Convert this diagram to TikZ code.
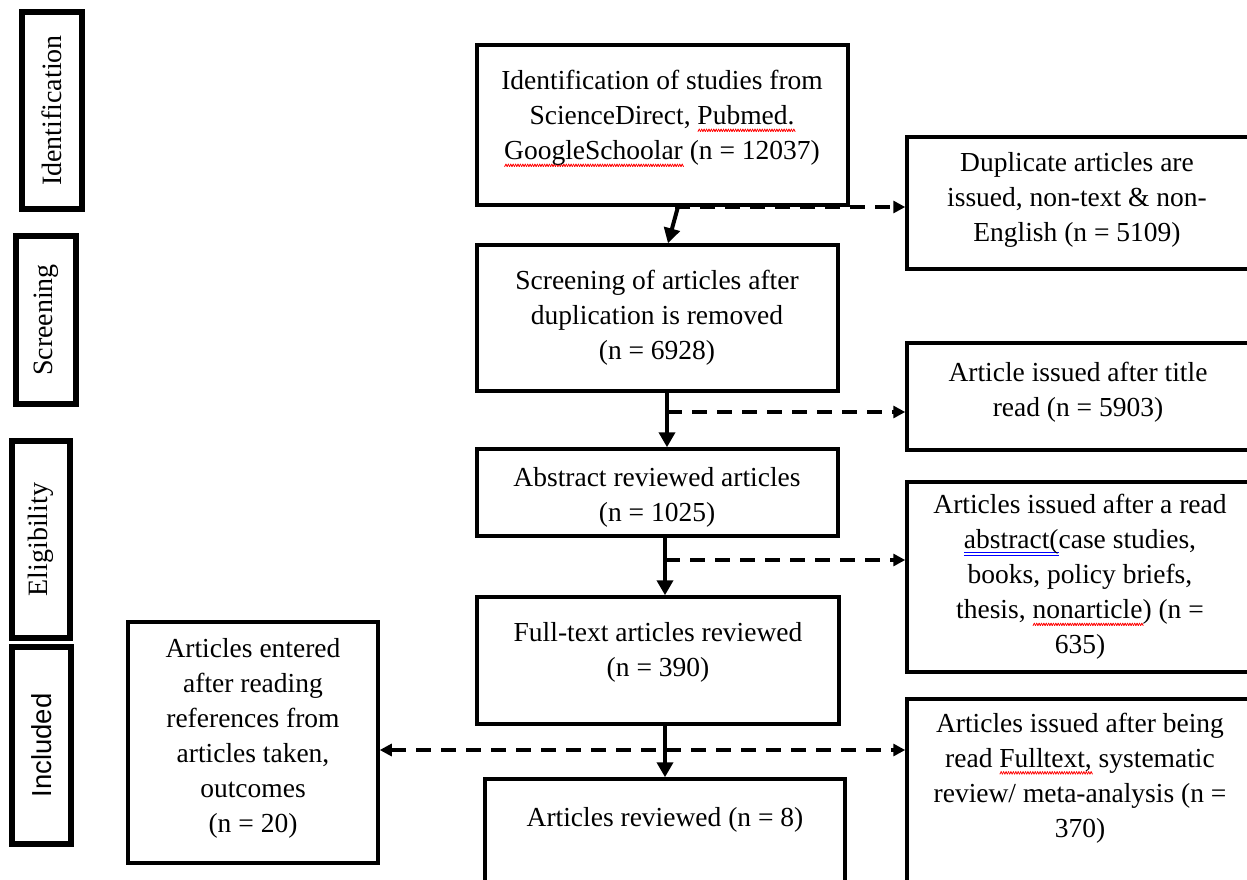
\documentclass[tikz,border=0pt]{standalone}
\usepackage{fontspec}
\setmainfont{Liberation Serif}
\newfontfamily\labsans{Liberation Sans}
\usepackage{graphicx}
\usetikzlibrary{arrows.meta}
\newsavebox\ulbox
\newcommand\wavepiece{\rotatebox[origin=c]{60}{\rule{3.2pt}{0.8pt}}\kern-1.1pt\rotatebox[origin=c]{-60}{\rule{3.2pt}{0.8pt}}\kern-1.1pt}
\newcommand\redwave[1]{\sbox\ulbox{#1}\rlap{\color{red}\raisebox{-6pt}[0pt][0pt]{\hbox to \wd\ulbox{\xleaders\hbox{\wavepiece}\hfill}}}\usebox\ulbox}
\newcommand\bluedbl[1]{\sbox\ulbox{#1}\rlap{\color{blue}\rule[-4.5pt]{\wd\ulbox}{0.9pt}}\rlap{\color{blue}\rule[-7pt]{\wd\ulbox}{0.9pt}}\usebox\ulbox}
\begin{document}
\begin{tikzpicture}[x=1pt,y=-1pt,
  box/.style={draw, line width=3.5pt, inner sep=0pt, rectangle},
  side/.style={draw, line width=6.5pt, inner sep=0pt, rotate=90, font=\fontsize{28}{34}\selectfont},
  txt/.style={align=center, inner sep=0pt, font=\fontsize{27.5}{35}\selectfont},
  solidarrow/.style={line width=4pt, -{Triangle[length=15pt,width=16pt]}},
  dasharrow/.style={line width=4pt, dash pattern=on 15pt off 10pt, -{Triangle[length=12pt,width=12pt]}},
]
\useasboundingbox (0,0) rectangle (1247,879);
\fill[white] (0,0) rectangle (1247,879);
\clip (0,0) rectangle (1247,879);

% side labels
\node[side, minimum width=197pt, minimum height=60pt] (idl) at (52,110.5) {Identification};
\node[side, minimum width=168pt, minimum height=60pt] (scl) at (46,320) {Screening};
\node[side, minimum width=197pt, minimum height=58pt] (ell) at (41,539.5) {Eligibility};
\node[side, minimum width=197pt, minimum height=59pt, font=\labsans\fontsize{27.5}{34}\selectfont] (inl) at (41.5,745.5) {Included};

% main column boxes
\node[box, minimum width=371pt, minimum height=160pt] (b1) at (662.5,125) {};
\node[txt] (t1) at (662,118) {Identification of studies from\\ ScienceDirect, \redwave{Pubmed.}\\ \redwave{GoogleSchoolar} (n = 12037)};

\node[box, minimum width=361pt, minimum height=146pt] (b2) at (657.5,318) {};
\node[txt] (t2) at (657,318) {Screening of articles after\\ duplication is removed\\ (n = 6928)};

\node[box, minimum width=361pt, minimum height=87pt] (b3) at (657.5,492.5) {};
\node[txt] (t3) at (657,497) {Abstract reviewed articles\\ (n = 1025)};

\node[box, minimum width=362pt, minimum height=127pt] (b4) at (658,660.5) {};
\node[txt] (t4) at (658,652) {Full-text articles reviewed\\ (n = 390)};

\node[box, minimum width=360pt, minimum height=131pt] (b5) at (665,844.5) {};
\node[txt] (t5) at (665,820) {Articles reviewed (n = 8)};

% left box
\node[box, minimum width=250pt, minimum height=241pt] (lb) at (253,742.5) {};
\node[txt] (lbt) at (253,738) {Articles entered\\ after reading\\ references from\\ articles taken,\\ outcomes\\ (n = 20)};

% right boxes
\node[box, minimum width=343pt, minimum height=132pt] (r1) at (1078.5,203) {};
\node[txt] (r1t) at (1077,200) {Duplicate articles are\\ issued, non-text \& non-\\ English (n = 5109)};

\node[box, minimum width=343pt, minimum height=107pt] (r2) at (1078.5,396.5) {};
\node[txt] (r2t) at (1078,392) {Article issued after title\\ read (n = 5903)};

\node[box, minimum width=345pt, minimum height=190pt] (r3) at (1079.5,577) {};
\node[txt] (r3t) at (1080,577) {Articles issued after a read\\ \bluedbl{abstract(}case studies,\\ books, policy briefs,\\ thesis, \redwave{nonarticle}) (n =\\ 635)};

\node[box, minimum width=345pt, minimum height=211pt] (r4) at (1079.5,804.5) {};
\node[txt] (r4t) at (1080,778) {Articles issued after being\\ read \redwave{Fulltext,} systematic\\ review/ meta-analysis (n =\\ 370)};

% connectors
\draw[solidarrow] ([xshift=15.5pt]b1.south) -- ([xshift=10.5pt]b2.north);
\coordinate (j1) at (675,207);
\draw[dasharrow] (j1) -- (r1.west |- j1);

\draw[solidarrow] ([xshift=9.5pt]b2.south) -- ([xshift=9.5pt]b3.north);
\coordinate (j2) at (667,412);
\draw[dasharrow] (j2) -- (r2.west |- j2);

\draw[solidarrow] ([xshift=7.5pt]b3.south) -- ([xshift=7pt]b4.north);
\coordinate (j3) at (665,560);
\draw[dasharrow] (j3) -- (r3.west |- j3);

\draw[solidarrow] ([xshift=7pt]b4.south) -- (b5.north);
\coordinate (j4) at (665,750);
\draw[dasharrow, {Triangle[length=12pt,width=12pt]}-{Triangle[length=12pt,width=12pt]}] (lb.east |- j4) -- (r4.west |- j4);
\end{tikzpicture}
\end{document}
